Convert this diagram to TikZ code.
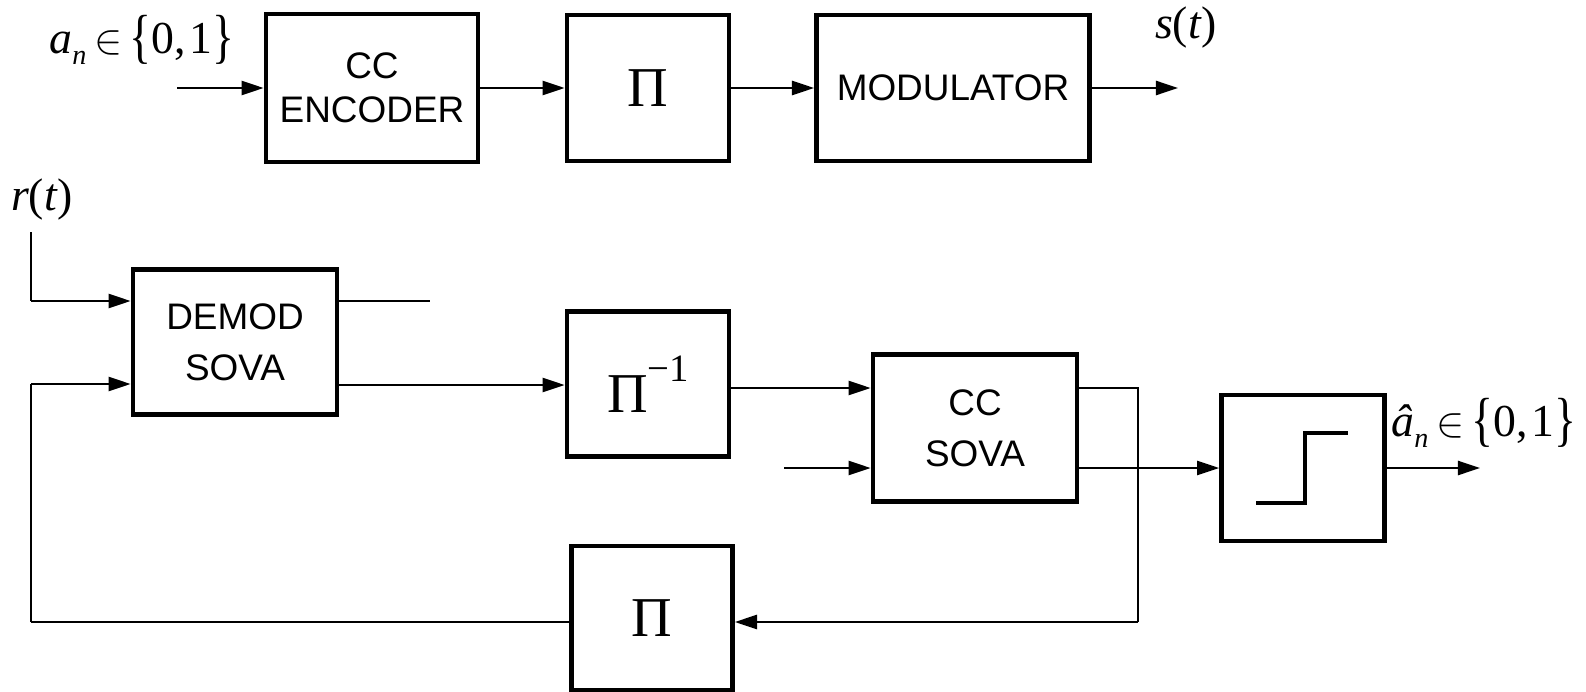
\documentclass[tikz,border=0pt]{standalone}
\usepackage{fontspec}
\setmainfont{Liberation Sans}
\newfontfamily\tms{Liberation Serif}
\usetikzlibrary{arrows.meta,positioning}
\newcommand{\sub}[1]{\raisebox{-0.55ex}{\fontsize{8}{9}\selectfont\itshape #1}}
\newcommand{\brc}[1]{\raisebox{-0.15ex}{\scalebox{1}[1.3]{#1}}}
\tikzset{
  blk/.style={draw, line width=1.3pt, align=center, inner sep=0pt,
    font=\fontsize{10.5}{12.6}\selectfont},
  arr/.style={line width=0.7pt, -{Triangle[length=6.3pt,width=4pt]}},
  ln/.style={line width=0.7pt},
  thin/.style={line width=0.45pt},
  pifont/.style={font=\tms\fontsize{16}{18}\selectfont},
  lbl/.style={inner sep=0pt, font=\tms\fontsize{13}{15}\selectfont}
}
\begin{document}
\begin{tikzpicture}[x=0.01cm,y=-0.01cm]
\useasboundingbox (0,0) rectangle (1586,691);
% top row
\node[blk, minimum width=2.12cm, minimum height=1.48cm] (enc) at (372,88) {CC\\ENCODER};
\node[blk, pifont, minimum width=1.62cm, minimum height=1.46cm] (pi1) at (648,88) {Π};
\node[blk, minimum width=2.73cm, minimum height=1.46cm] (mod) at (953,88) {MODULATOR};
\coordinate (ain) at (177,88);
\coordinate (sout) at (1178,88);
\node[lbl] (alab) at (142,40) {\textit{a}\sub{n}\,$\in$\,\brc{\{}0,\kern1pt1\brc{\}}};
\node[lbl] (slab) at (1186,28) {\textit{s}(\textit{t})};
\draw[arr] (ain) -- (enc.west);
\draw[arr] (enc.east) -- (pi1.west);
\draw[arr] (pi1.east) -- (mod.west);
\draw[arr] (mod.east) -- (sout);
% bottom
\node[lbl] (rlab) at (42,200) {\textit{r}(\textit{t})};
\coordinate (rtop) at (31,232);
\coordinate (rcorner) at (31,301);
\node[blk, minimum width=2.04cm, minimum height=1.45cm] (demod) at (235,342) {DEMOD\\[2pt]SOVA};
\node[blk, pifont, minimum width=1.62cm, minimum height=1.45cm] (pinv) at (648,384) {Π\raisebox{1.2ex}{\fontsize{11}{11}\selectfont −1}};
\node[blk, minimum width=2.04cm, minimum height=1.47cm] (ccsova) at (975,428) {CC\\[2pt]SOVA};
\node[blk, minimum width=1.63cm, minimum height=1.46cm] (dec) at (1303,468) {};
\node[blk, pifont, minimum width=1.61cm, minimum height=1.44cm] (pi2) at (652,618) {Π};
\node[lbl] (ahat) at (1484,423) {\textit{â}\sub{n}\,$\in$\,\brc{\{}0,\kern1pt1\brc{\}}};
\coordinate (stub) at (430,301);
\coordinate (cin2) at (784,468);
\coordinate (fbx) at (1138,388);
\coordinate (fbb) at (1138,622);
\coordinate (loopb) at (31,622);
\coordinate (loopt) at (31,384);
\coordinate (aout) at (1480,468);
% connectors
\draw[thin] (rtop) -- (rcorner);
\draw[arr] (rcorner) -- (rcorner -| demod.west);
\draw[thin] (demod.east |- stub) -- (stub);
\draw[arr] (demod.east |- 0,385) -- (pinv.west |- 0,385);
\draw[arr] (pinv.east |- 0,388) -- (ccsova.west |- 0,388);
\draw[arr] (cin2) -- (cin2 -| ccsova.west);
\draw[thin] (ccsova.east |- fbx) -- (fbx) -- (fbb);
\draw[arr] (fbb) -- (fbb -| pi2.east);
\draw[arr] (ccsova.east |- dec.west) -- (dec.west);
\draw[arr] (dec.east) -- (aout);
\draw[ln] (pi2.west |- loopb) -- (loopb);
\draw[thin] (loopb) -- (loopt);
\draw[arr] (loopt) -- (loopt -| demod.west);
% step symbol
\draw[line width=1.3pt] (1256,503) -- (1305,503) -- (1305,433) -- (1348,433);
\end{tikzpicture}
\end{document}
